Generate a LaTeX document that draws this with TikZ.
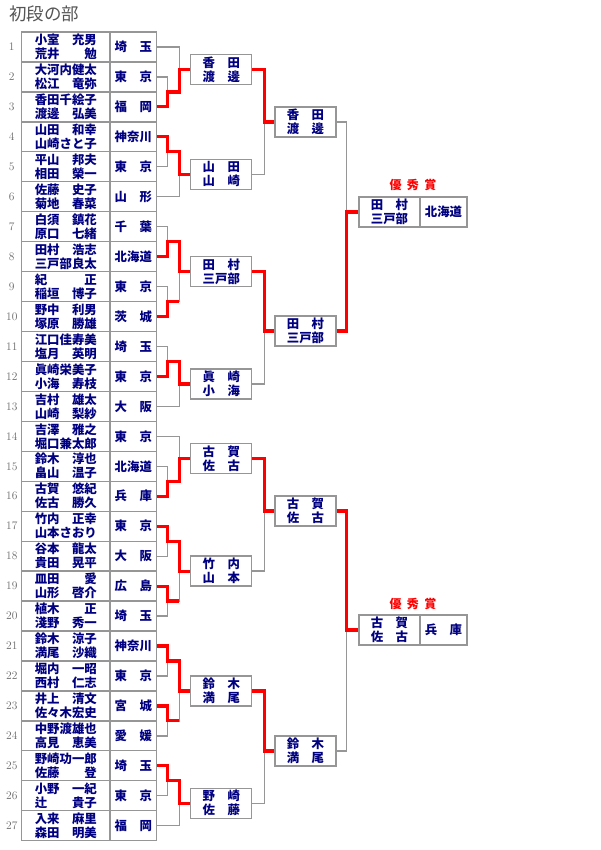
\documentclass[tikz,border=0pt]{standalone}
\usepackage{fontspec}
\newfontfamily\jpfont{Noto Sans CJK JP}
\usetikzlibrary{calc}
\definecolor{namenavy}{RGB}{0,0,128}
\definecolor{framegray}{RGB}{150,150,150}
\definecolor{numgray}{RGB}{105,105,105}
\definecolor{titlegray}{RGB}{85,85,85}
\newcommand{\fio}[3][5em]{\makebox[#1]{#2\hfill#3}}

\begin{document}
\begin{tikzpicture}[x=1pt, y=-1pt,
    namecell/.style={rectangle, draw=framegray, line width=1.3pt,
        minimum width=89.3pt, minimum height=29.95pt, inner sep=0pt,
        align=center, text=namenavy, font=\jpfont\bfseries\fontsize{12.4}{14}\selectfont},
    prefcell/.style={namecell, minimum width=46.7pt},
    rbox/.style={namecell, minimum width=61pt, minimum height=30pt},
    pbox/.style={namecell, minimum width=47pt, minimum height=30pt},
    numlabel/.style={text=numgray, font=\fontsize{11.5}{13}\selectfont},
    prize/.style={text=red, font=\jpfont\bfseries\fontsize{12}{14}\selectfont},
    lose/.style={draw=framegray, line width=1.3pt},
    win/.style={draw=red, line width=3.2pt}
]
    \useasboundingbox (0,0) rectangle (600,850);

    % ---- Title ----
    \node[anchor=west, text=titlegray, font=\jpfont\fontsize{17.5}{20}\selectfont, inner sep=0pt]
        (title) at (9,14) {初段の部};

    % ---- Entry table (27 pairs) ----
    \foreach \i/\sa/\ga/\sb/\gb/\pa/\pb in {
        1/小室/充男/荒井/勉/埼/玉,
        2/大河内/健太/松江/竜弥/東/京,
        3/香田/千絵子/渡邊/弘美/福/岡,
        4/山田/和幸/山崎/さと子/神奈/川,
        5/平山/邦夫/相田/榮一/東/京,
        6/佐藤/史子/菊地/春菜/山/形,
        7/白須/鎮花/原口/七緒/千/葉,
        8/田村/浩志/三戸部/良太/北海/道,
        9/紀/正/稲垣/博子/東/京,
        10/野中/利男/塚原/勝雄/茨/城,
        11/江口/佳寿美/塩月/英明/埼/玉,
        12/眞崎/栄美子/小海/寿枝/東/京,
        13/吉村/雄太/山崎/梨紗/大/阪,
        14/吉澤/雅之/堀口/兼太郎/東/京,
        15/鈴木/淳也/畠山/温子/北海/道,
        16/古賀/悠紀/佐古/勝久/兵/庫,
        17/竹内/正幸/山本/さおり/東/京,
        18/谷本/龍太/貴田/晃平/大/阪,
        19/皿田/愛/山形/啓介/広/島,
        20/植木/正/淺野/秀一/埼/玉,
        21/鈴木/涼子/満尾/沙織/神奈/川,
        22/堀内/一昭/西村/仁志/東/京,
        23/井上/清文/佐々木/宏史/宮/城,
        24/中野渡/雄也/高見/恵美/愛/媛,
        25/野崎/功一郎/佐藤/登/埼/玉,
        26/小野/一紀/辻/貴子/東/京,
        27/入来/麻里/森田/明美/福/岡}{
        \node[namecell] (n\i) at (65.8,{47+29.95*(\i-1)}) {\fio{\sa}{\ga}\\\fio{\sb}{\gb}};
        \node[prefcell] (p\i) at (133.3,{47+29.95*(\i-1)}) {\fio[3em]{\pa}{\pb}};
        \node[numlabel] (no\i) at (11.8,{47+29.95*(\i-1)}) {\i};
    }

    % ---- First round winners ----
    \node[rbox] (k1) at (221.3,69.5)  {\fio[3em]{香}{田}\\\fio[3em]{渡}{邊}};
    \node[rbox] (k2) at (221.3,174.3) {\fio[3em]{山}{田}\\\fio[3em]{山}{崎}};
    \node[rbox] (k3) at (221.3,271.6) {\fio[3em]{田}{村}\\\fio[3em]{三戸}{部}};
    \node[rbox] (k4) at (221.3,383.9) {\fio[3em]{眞}{崎}\\\fio[3em]{小}{海}};
    \node[rbox] (k5) at (221.3,458.8) {\fio[3em]{古}{賀}\\\fio[3em]{佐}{古}};
    \node[rbox] (k6) at (221.3,571.1) {\fio[3em]{竹}{内}\\\fio[3em]{山}{本}};
    \node[rbox] (k7) at (221.3,690.9) {\fio[3em]{鈴}{木}\\\fio[3em]{満}{尾}};
    \node[rbox] (k8) at (221.3,803.2) {\fio[3em]{野}{崎}\\\fio[3em]{佐}{藤}};

    % ---- Semi-final winners ----
    \node[rbox] (s1) at (305.5,122) {\fio[3em]{香}{田}\\\fio[3em]{渡}{邊}};
    \node[rbox] (s2) at (305.5,331) {\fio[3em]{田}{村}\\\fio[3em]{三戸}{部}};
    \node[rbox] (s3) at (305.5,511) {\fio[3em]{古}{賀}\\\fio[3em]{佐}{古}};
    \node[rbox] (s4) at (305.5,751) {\fio[3em]{鈴}{木}\\\fio[3em]{満}{尾}};

    % ---- Prize winners ----
    \node[rbox] (f1) at (389.5,212) {\fio[3em]{田}{村}\\\fio[3em]{三戸}{部}};
    \node[pbox] (f1p) at (443.5,212) {\fio[3em]{北海}{道}};
    \node[prize] (prize1) at (413,185) {優\hspace{.45em}秀\hspace{.45em}賞};
    \node[rbox] (f2) at (389.5,630) {\fio[3em]{古}{賀}\\\fio[3em]{佐}{古}};
    \node[pbox] (f2p) at (443.5,630) {\fio[3em]{兵}{庫}};
    \node[prize] (prize2) at (413,604) {優\hspace{.45em}秀\hspace{.45em}賞};

    % ---- Junction points ----
    \coordinate (a1)  at ($(p2.east)!.5!(p3.east)+(10.5,0)$);
    \coordinate (a2)  at ($(p4.east)!.5!(p5.east)+(10.5,0)$);
    \coordinate (a3)  at ($(p7.east)!.5!(p8.east)+(10.5,0)$);
    \coordinate (a3b) at ($(p9.east)!.5!(p10.east)+(10.5,0)$);
    \coordinate (a4)  at ($(p11.east)!.5!(p12.east)+(10.5,0)$);
    \coordinate (a5)  at ($(p15.east)!.5!(p16.east)+(10.5,0)$);
    \coordinate (a6)  at ($(p17.east)!.5!(p18.east)+(10.5,0)$);
    \coordinate (a6b) at ($(p19.east)!.5!(p20.east)+(10.5,0)$);
    \coordinate (a7)  at ($(p21.east)!.5!(p22.east)+(10.5,0)$);
    \coordinate (a7b) at ($(p23.east)!.5!(p24.east)+(10.5,0)$);
    \coordinate (a8)  at ($(p25.east)!.5!(p26.east)+(10.5,0)$);
    \foreach \k in {1,...,8} \coordinate (b\k) at ([xshift=-11pt]k\k.west);
    \foreach \k in {1,...,4} \coordinate (c\k) at ([xshift=-10pt]s\k.west);
    \coordinate (d1) at ([xshift=-12pt]f1.west);
    \coordinate (d2) at ([xshift=-12pt]f2.west);

    % ---- Losing branches (grey) ----
    \draw[lose] (p1.east) -| (b1);
    \draw[lose] (p2.east) -| (a1);
    \draw[lose] (p5.east) -| (a2);
    \draw[lose] (p6.east) -| (b2);
    \draw[lose] (p7.east) -| (a3);
    \draw[lose] (p9.east) -| (a3b);
    \draw[lose] (a3b) -| (b3);
    \draw[lose] (p11.east) -| (a4);
    \draw[lose] (p13.east) -| (b4);
    \draw[lose] (p14.east) -| (b5);
    \draw[lose] (p15.east) -| (a5);
    \draw[lose] (p18.east) -| (a6);
    \draw[lose] (p20.east) -| (a6b);
    \draw[lose] (a6b) -| (b6);
    \draw[lose] (p22.east) -| (a7);
    \draw[lose] (p24.east) -| (a7b);
    \draw[lose] (a7b) -| (b7);
    \draw[lose] (p26.east) -| (a8);
    \draw[lose] (p27.east) -| (b8);
    \draw[lose] (k2.east) -| (c1);
    \draw[lose] (k4.east) -| (c2);
    \draw[lose] (k6.east) -| (c3);
    \draw[lose] (k8.east) -| (c4);
    \draw[lose] (s1.east) -| (d1);
    \draw[lose] (s4.east) -| (d2);

    % ---- Winning branches (red) ----
    \draw[win] (p3.east) -| (a1) -| (b1) -- (k1.west);
    \draw[win] (p4.east) -| (a2) -| (b2) -- (k2.west);
    \draw[win] (p8.east) -| (a3) -| (b3) -- (k3.west);
    \draw[win] (p10.east) -| (a3b) -- (a3b -| b3);
    \draw[win] (p12.east) -| (a4) -| (b4) -- (k4.west);
    \draw[win] (p16.east) -| (a5) -| (b5) -- (k5.west);
    \draw[win] (p17.east) -| (a6) -| (b6) -- (k6.west);
    \draw[win] (p19.east) -| (a6b) -- (a6b -| b6);
    \draw[win] (p21.east) -| (a7) -| (b7) -- (k7.west);
    \draw[win] (p23.east) -| (a7b) -- (a7b -| b7);
    \draw[win] (p25.east) -| (a8) -| (b8) -- (k8.west);
    \draw[win] (k1.east) -| (c1) -- (s1.west);
    \draw[win] (k3.east) -| (c2) -- (s2.west);
    \draw[win] (k5.east) -| (c3) -- (s3.west);
    \draw[win] (k7.east) -| (c4) -- (s4.west);
    \draw[win] (s2.east) -| (d1) -- (f1.west);
    \draw[win] (s3.east) -| (d2) -- (f2.west);
\end{tikzpicture}
\end{document}
